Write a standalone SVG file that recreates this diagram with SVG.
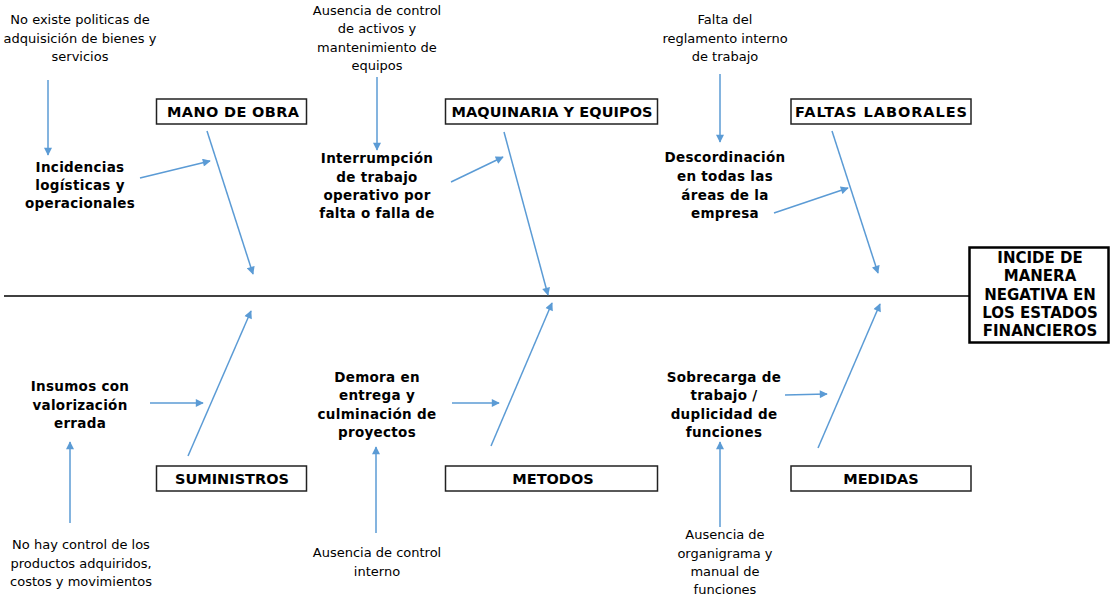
<svg xmlns="http://www.w3.org/2000/svg" width="1110" height="595" viewBox="0 0 1110 595">
<defs>
<marker id="ah" viewBox="0 0 10 10" refX="9" refY="5" markerWidth="9" markerHeight="8" markerUnits="userSpaceOnUse" orient="auto">
<path d="M0,0 L10,5 L0,10 z" fill="#5B9BD5"/>
</marker>
<style>
.box{fill:#fff;stroke:#222;stroke-width:1.5}
.main{fill:#fff;stroke:#000;stroke-width:2.5}
.bt{font-family:"DejaVu Sans",Verdana,sans-serif;font-weight:bold;font-size:14.5px;fill:#000;text-anchor:middle}
.et{font-family:"DejaVu Sans",Verdana,sans-serif;font-weight:bold;font-size:15px;fill:#000;text-anchor:middle}
.ct{font-family:"DejaVu Sans",Verdana,sans-serif;font-weight:bold;font-size:13.5px;letter-spacing:0.3px;fill:#000;text-anchor:middle}
.st{font-family:"DejaVu Sans",Verdana,sans-serif;font-size:13px;fill:#000;text-anchor:middle}
.ar{stroke:#5B9BD5;stroke-width:1.5;fill:none;marker-end:url(#ah)}
</style>
</defs>
<rect width="1110" height="595" fill="#fff"/>

<g id="connectors">
<line x1="4" y1="296" x2="969" y2="296" stroke="#000" stroke-width="1.5"/>
<line class="ar" x1="207" y1="131" x2="253" y2="274"/>
<line class="ar" x1="504" y1="132" x2="548" y2="295"/>
<line class="ar" x1="832" y1="131" x2="878" y2="273"/>
<line class="ar" x1="140" y1="178" x2="210" y2="161"/>
<line class="ar" x1="451" y1="182" x2="503" y2="157"/>
<line class="ar" x1="774" y1="213" x2="848" y2="188"/>
<line class="ar" x1="48" y1="80" x2="48" y2="155"/>
<line class="ar" x1="377" y1="77" x2="377" y2="150"/>
<line class="ar" x1="720" y1="74" x2="720" y2="142"/>
<line class="ar" x1="188" y1="456" x2="251" y2="311"/>
<line class="ar" x1="491" y1="446" x2="552" y2="303"/>
<line class="ar" x1="818" y1="448" x2="880" y2="304"/>
<line class="ar" x1="150" y1="403" x2="203" y2="403"/>
<line class="ar" x1="452" y1="403" x2="499" y2="403"/>
<line class="ar" x1="785" y1="395" x2="827" y2="394"/>
<line class="ar" x1="70" y1="523" x2="70" y2="442"/>
<line class="ar" x1="376" y1="533" x2="376" y2="447"/>
<line class="ar" x1="720" y1="527" x2="720" y2="442"/>
</g>

<g id="effect">
<rect class="main" x="969.5" y="247.5" width="139" height="95"/>
<text class="et" x="1040" y="263">INCIDE DE</text>
<text class="et" x="1040" y="281">MANERA</text>
<text class="et" x="1040" y="300">NEGATIVA EN</text>
<text class="et" x="1040" y="318">LOS ESTADOS</text>
<text class="et" x="1040" y="336">FINANCIEROS</text>
</g>

<g id="mano-de-obra">
<rect class="box" x="156.5" y="99" width="150" height="25"/>
<text class="bt" x="233" y="117" textLength="132" lengthAdjust="spacing">MANO DE OBRA</text>
</g>
<g id="maquinaria">
<rect class="box" x="445.5" y="99" width="212" height="25"/>
<text class="bt" x="552" y="117" textLength="201" lengthAdjust="spacing">MAQUINARIA Y EQUIPOS</text>
</g>
<g id="faltas">
<rect class="box" x="791" y="99" width="180" height="25"/>
<text class="bt" x="881" y="117" textLength="172" lengthAdjust="spacing">FALTAS LABORALES</text>
</g>
<g id="suministros">
<rect class="box" x="156.5" y="466" width="150" height="25"/>
<text class="bt" x="232" y="484">SUMINISTROS</text>
</g>
<g id="metodos">
<rect class="box" x="445.5" y="466" width="212" height="25"/>
<text class="bt" x="553" y="484">METODOS</text>
</g>
<g id="medidas">
<rect class="box" x="791" y="466" width="180" height="25"/>
<text class="bt" x="881" y="484">MEDIDAS</text>
</g>

<g id="causa-politicas">
<text class="st" x="80" y="24">No existe politicas de</text>
<text class="st" x="80" y="43">adquisición de bienes y</text>
<text class="st" x="80" y="61">servicios</text>
</g>
<g id="causa-incidencias">
<text class="ct" x="80" y="172">Incidencias</text>
<text class="ct" x="80" y="190">logísticas y</text>
<text class="ct" x="80" y="208">operacionales</text>
</g>
<g id="causa-ausencia-activos">
<text class="st" x="377" y="15">Ausencia de control</text>
<text class="st" x="377" y="33">de activos y</text>
<text class="st" x="377" y="52">mantenimiento de</text>
<text class="st" x="377" y="70">equipos</text>
</g>
<g id="causa-interrupcion">
<text class="ct" x="377" y="163">Interrumpción</text>
<text class="ct" x="377" y="182">de trabajo</text>
<text class="ct" x="377" y="200">operativo por</text>
<text class="ct" x="377" y="218">falta o falla de</text>
</g>
<g id="causa-reglamento">
<text class="st" x="725" y="24">Falta del</text>
<text class="st" x="725" y="43">reglamento interno</text>
<text class="st" x="725" y="61">de trabajo</text>
</g>
<g id="causa-descordinacion">
<text class="ct" x="725" y="162">Descordinación</text>
<text class="ct" x="725" y="181">en todas las</text>
<text class="ct" x="725" y="200">áreas de la</text>
<text class="ct" x="725" y="218">empresa</text>
</g>
<g id="causa-insumos">
<text class="ct" x="80" y="391">Insumos con</text>
<text class="ct" x="80" y="410">valorización</text>
<text class="ct" x="80" y="428">errada</text>
</g>
<g id="causa-control-productos">
<text class="st" x="81" y="549">No hay control de los</text>
<text class="st" x="81" y="568">productos adquiridos,</text>
<text class="st" x="81" y="586">costos y movimientos</text>
</g>
<g id="causa-demora">
<text class="ct" x="377" y="382">Demora en</text>
<text class="ct" x="377" y="400">entrega y</text>
<text class="ct" x="377" y="419">culminación de</text>
<text class="ct" x="377" y="437">proyectos</text>
</g>
<g id="causa-control-interno">
<text class="st" x="377" y="557">Ausencia de control</text>
<text class="st" x="377" y="576">interno</text>
</g>
<g id="causa-sobrecarga">
<text class="ct" x="724" y="382">Sobrecarga de</text>
<text class="ct" x="724" y="400">trabajo /</text>
<text class="ct" x="724" y="419">duplicidad de</text>
<text class="ct" x="724" y="437">funciones</text>
</g>
<g id="causa-organigrama">
<text class="st" x="725" y="539">Ausencia de</text>
<text class="st" x="725" y="558">organigrama y</text>
<text class="st" x="725" y="576">manual de</text>
<text class="st" x="725" y="594">funciones</text>
</g>
</svg>
